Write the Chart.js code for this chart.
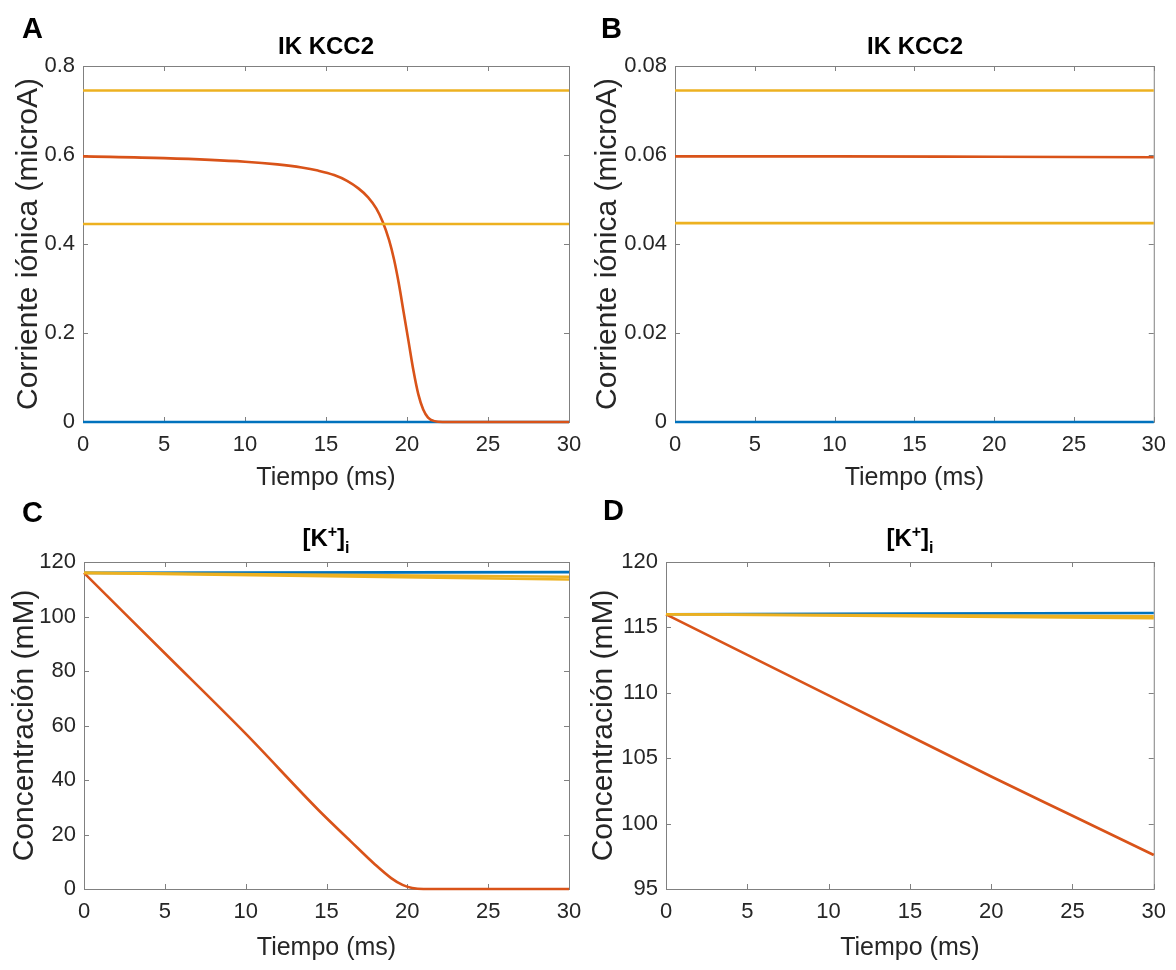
<!DOCTYPE html>
<html><head><meta charset="utf-8">
<script src="https://cdn.jsdelivr.net/npm/chart.js@4.4.1/dist/chart.umd.min.js"></script>
<style>
html,body{margin:0;padding:0;background:#fff;width:1176px;height:970px;overflow:hidden;font-family:"Liberation Sans",Arial,sans-serif;}
canvas{position:absolute;left:0;top:0;}
.lbl{position:absolute;font-weight:bold;color:#000;font-size:29px;line-height:1;z-index:5;}
.ttl{position:absolute;font-weight:bold;color:#000;font-size:24px;line-height:1;transform:translateX(-50%);white-space:nowrap;z-index:5;}
.ttl sup{font-size:16px;vertical-align:9px;}
.ttl sub{font-size:16px;vertical-align:-7px;}
</style></head><body>
<canvas id="cA" width="1176" height="970"></canvas>
<canvas id="cB" width="1176" height="970"></canvas>
<canvas id="cC" width="1176" height="970"></canvas>
<canvas id="cD" width="1176" height="970"></canvas>
<div class="lbl" style="left:22px;top:14px">A</div>
<div class="lbl" style="left:601px;top:14px">B</div>
<div class="lbl" style="left:22px;top:498px">C</div>
<div class="lbl" style="left:603px;top:496px">D</div>
<div class="ttl" style="left:326px;top:34px">IK KCC2</div>
<div class="ttl" style="left:915px;top:34px">IK KCC2</div>
<div class="ttl" style="left:326px;top:524px">[K<sup>+</sup>]<sub>i</sub></div>
<div class="ttl" style="left:910px;top:524px">[K<sup>+</sup>]<sub>i</sub></div>
<script>
// ---------- DATA ----------
const xTicks = [0, 5, 10, 15, 20, 25, 30];
const yTicksA = [0, 0.2, 0.4, 0.6, 0.8];
const yTicksB = [0, 0.02, 0.04, 0.06, 0.08];
const yTicksC = [0, 20, 40, 60, 80, 100, 120];
const yTicksD = [95, 100, 105, 110, 115, 120];

const tFlat = [0, 30];

// Panel A: IK KCC2
const blueA = [0, 0];
const yellowHighA = [0.745, 0.745];
const yellowLowA = [0.445, 0.445];
const tOrangeA = [0, 5, 10, 12, 13.5, 14.5, 15.5, 16.3, 17.0, 17.6, 18.1, 18.5, 18.9, 19.2, 19.5, 19.8, 20.1, 20.4, 20.7, 21.0, 21.3, 21.7, 22.2, 30];
const orangeA = [0.597, 0.593, 0.585, 0.579, 0.572, 0.565, 0.555, 0.542, 0.525, 0.505, 0.48, 0.45, 0.408, 0.365, 0.31, 0.245, 0.18, 0.115, 0.062, 0.028, 0.01, 0.002, 0, 0];

// Panel B: IK KCC2
const blueB = [0, 0];
const yellowHighB = [0.0745, 0.0745];
const yellowLowB = [0.0447, 0.0447];
const tOrangeB = [0, 10, 20, 30];
const orangeB = [0.0597, 0.0597, 0.0596, 0.0595];

// Panel C: [K+]i
const blueC = [116, 116.3];
const yellow1C = [116, 114.6];
const yellow2C = [116, 113.6];
const tOrangeC = [0, 5, 10, 14.5, 16.5, 18, 19, 19.7, 20.3, 21, 25, 30];
const orangeC = [116, 86.5, 57, 29, 17.5, 9, 4, 1.5, 0.4, 0, 0, 0];

// Panel D: [K+]i
const blueD = [116.0, 116.1];
const yellow1D = [116.0, 115.85];
const yellow2D = [116.0, 115.7];
const tOrangeD = [0, 5, 10, 15, 20, 25, 30];
const orangeD = [116, 112.9, 109.8, 106.7, 103.6, 100.6, 97.6];

// ---------- STYLE / LAYOUT ----------
const BLUE = '#0072BD', ORANGE = '#D95319', YELLOW = '#EDB120';
const W = 1176, H = 970;
const FONT = '"Liberation Sans", Arial, sans-serif';
const TXT = '#262626';
const TICK_SIZE = 22, XT_SIZE = 25, YT_SIZE = 30;

const layouts = {
  A: {plotL: 83, plotR: 569, plotT: 66, plotB: 422, yTitleX: 29, xTitleY: 478},
  B: {plotL: 675, plotR: 1155, plotT: 66, plotB: 422, yTitleX: 608, xTitleY: 478},
  C: {plotL: 84, plotR: 569, plotT: 562, plotB: 889, yTitleX: 25, xTitleY: 948},
  D: {plotL: 666, plotR: 1155, plotT: 562, plotB: 889, yTitleX: 604, xTitleY: 948}
};

const toXY = (xs, ys) => xs.map((x, i) => ({x, y: ys[i]}));
const ds = (xs, ys, color) => ({data: toXY(xs, ys), borderColor: color, backgroundColor: color, borderWidth: 2.6, pointRadius: 0, fill: false, clip: false, cubicInterpolationMode: 'monotone'});

const boxPlugin = {
  id: 'matlabBox',
  beforeDatasetsDraw(chart) {
    const {ctx, chartArea: {left, right, top, bottom}, scales: {x, y}} = chart;
    ctx.save();
    ctx.strokeStyle = '#808080';
    ctx.lineWidth = 1;
    ctx.strokeRect(left + 0.5, top + 0.5, right - left, bottom - top);
    ctx.beginPath();
    const L = 5;
    x.ticks.forEach(t => {
      const px = Math.round(x.getPixelForValue(t.value)) + 0.5;
      ctx.moveTo(px, bottom); ctx.lineTo(px, bottom - L);
      ctx.moveTo(px, top); ctx.lineTo(px, top + L);
    });
    y.ticks.forEach(t => {
      const py = Math.round(y.getPixelForValue(t.value)) + 0.5;
      ctx.moveTo(left, py); ctx.lineTo(left + L, py);
      ctx.moveTo(right, py); ctx.lineTo(right - L, py);
    });
    ctx.stroke();
    ctx.restore();
  }
};

function makeChart(id, lay, datasets, yTicks, yLabel) {
  const padL = lay.yTitleX - YT_SIZE * 0.6;
  const boxBottom = lay.xTitleY + XT_SIZE * 0.6;
  return new Chart(document.getElementById(id), {
    type: 'line',
    data: {datasets},
    options: {
      responsive: false, animation: false, events: [],
      layout: {padding: {left: padL, top: lay.plotT, right: W - lay.plotR, bottom: H - boxBottom}},
      plugins: {legend: {display: false}, tooltip: {enabled: false}, title: {display: false}},
      scales: {
        x: {
          type: 'linear', min: xTicks[0], max: xTicks[xTicks.length - 1],
          afterBuildTicks: s => { s.ticks = xTicks.map(v => ({value: v})); },
          afterFit: s => { s.height = boxBottom - lay.plotB; },
          grid: {display: false, drawTicks: false}, border: {display: false},
          ticks: {padding: 10, color: TXT, font: {family: FONT, size: TICK_SIZE}, maxRotation: 0, autoSkip: false, callback: v => String(v)},
          title: {display: true, text: 'Tiempo (ms)', color: TXT, font: {family: FONT, size: XT_SIZE}, padding: 0}
        },
        y: {
          type: 'linear', min: yTicks[0], max: yTicks[yTicks.length - 1],
          afterBuildTicks: s => { s.ticks = yTicks.map(v => ({value: v})); },
          afterFit: s => { s.width = lay.plotL - padL; },
          grid: {display: false, drawTicks: false}, border: {display: false},
          ticks: {padding: 8, color: TXT, font: {family: FONT, size: TICK_SIZE}, autoSkip: false, callback: v => String(v)},
          title: {display: true, text: yLabel, color: TXT, font: {family: FONT, size: YT_SIZE}, padding: 0}
        }
      }
    },
    plugins: [boxPlugin]
  });
}

makeChart('cA', layouts.A, [
  ds(tFlat, yellowHighA, YELLOW), ds(tFlat, yellowLowA, YELLOW), ds(tOrangeA, orangeA, ORANGE), ds(tFlat, blueA, BLUE)
], yTicksA, 'Corriente iónica (microA)');
makeChart('cB', layouts.B, [
  ds(tFlat, yellowHighB, YELLOW), ds(tFlat, yellowLowB, YELLOW), ds(tOrangeB, orangeB, ORANGE), ds(tFlat, blueB, BLUE)
], yTicksB, 'Corriente iónica (microA)');
makeChart('cC', layouts.C, [
  ds(tFlat, yellow1C, YELLOW), ds(tFlat, yellow2C, YELLOW), ds(tOrangeC, orangeC, ORANGE), ds(tFlat, blueC, BLUE)
], yTicksC, 'Concentración (mM)');
makeChart('cD', layouts.D, [
  ds(tFlat, yellow1D, YELLOW), ds(tFlat, yellow2D, YELLOW), ds(tOrangeD, orangeD, ORANGE), ds(tFlat, blueD, BLUE)
], yTicksD, 'Concentración (mM)');
</script>
</body></html>
